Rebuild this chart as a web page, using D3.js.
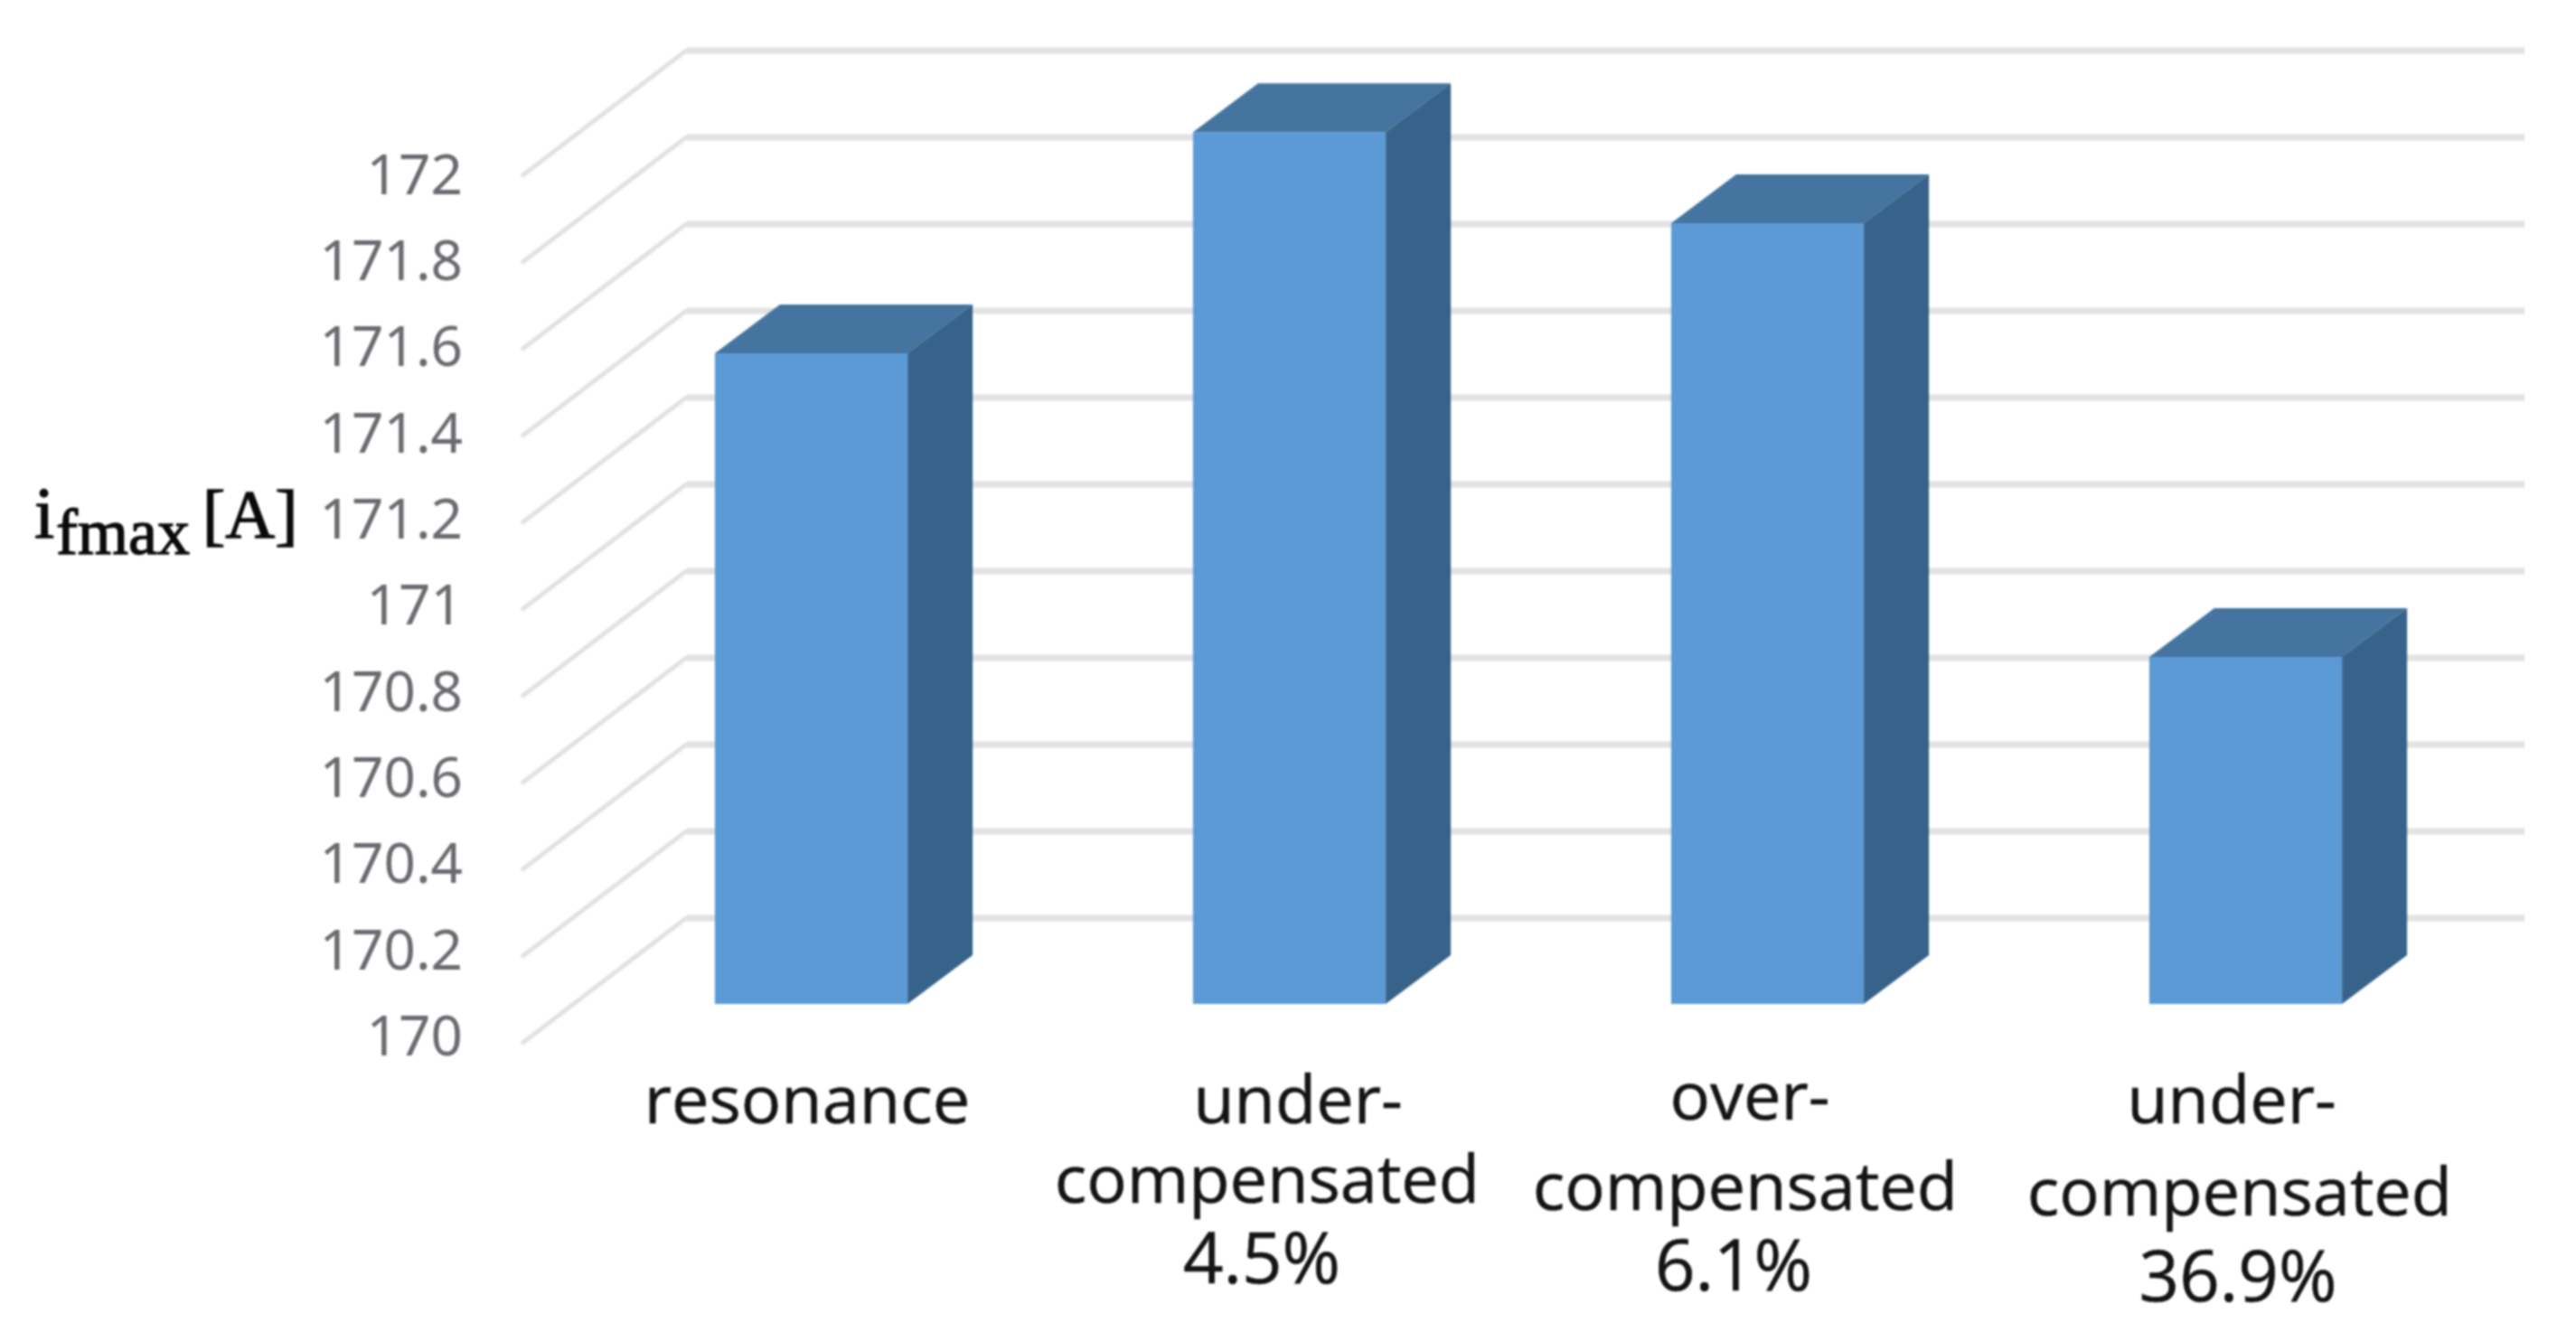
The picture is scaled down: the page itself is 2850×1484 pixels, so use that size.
<!DOCTYPE html>
<html><head><meta charset="utf-8">
<style>html,body{margin:0;padding:0;background:#fff}svg{display:block;filter:blur(1px)}</style>
<script src="https://cdn.jsdelivr.net/npm/d3@7"></script>
</head><body>
<script>
const categories = ["resonance", "under-compensated 4.5%", "over-compensated 6.1%", "under-compensated 36.9%"];
const values = [171.5, 172.01, 171.8, 170.8];
const tickValues = [170, 170.2, 170.4, 170.6, 170.8, 171, 171.2, 171.4, 171.6, 171.8, 172];
const tickLabels = ["170", "170.2", "170.4", "170.6", "170.8", "171", "171.2", "171.4", "171.6", "171.8", "172"];
const categoryLines = [["resonance"], ["under-", "compensated", "4.5%"], ["over-", "compensated", "6.1%"], ["under-", "compensated", "36.9%"]];

const W = 2850, H = 1484;
const svg = d3.select("body").append("svg").attr("width", W).attr("height", H).attr("viewBox", `0 0 ${W} ${H}`);

const yBack = d3.scaleLinear().domain([170, 172]).range([1016, 56]);
const yBar = d3.scaleLinear().domain([170, 172]).range([1111, 151]);
const yLabel = d3.scaleLinear().domain([170, 172]).range([1145, 192]);
const x = d3.scaleBand().domain(categories).range([633, 633 + 529 * 4]).paddingInner(0.597).paddingOuter(0.2985);

const wall = { dx: 182, dy: 139, left: 759, right: 2793 };
const bar = { dx: 72, dy: 54 };

const grid = svg.append("g").attr("fill", "none").attr("stroke", "#e2e2e2");
grid.selectAll("line.h").data(tickValues).join("line").attr("class", "h")
  .attr("x1", wall.left).attr("x2", wall.right)
  .attr("y1", d => yBack(d)).attr("y2", d => yBack(d)).attr("stroke-width", 7);
grid.selectAll("line.d").data(tickValues).join("line").attr("class", "d")
  .attr("x1", wall.left).attr("x2", wall.left - wall.dx)
  .attr("y1", d => yBack(d)).attr("y2", d => yBack(d) + wall.dy).attr("stroke-width", 5);

const axis = d3.axisLeft(yLabel).tickValues(tickValues).tickSize(0).tickPadding(0)
  .tickFormat((d, i) => tickLabels[i]);
const axisG = svg.append("g").attr("transform", "translate(512,0)").call(axis);
axisG.select(".domain").remove();
axisG.selectAll("text").attr("font-family", "'Noto Sans'").attr("font-size", 62).attr("fill", "#6a6a70")
  .attr("text-anchor", "end").attr("dy", "0.36em");

const rows = values.map((v, i) => ({ c: categories[i], v }));
const g = svg.append("g");
const path = pts => d3.line()(pts) + "Z";
g.selectAll("path.top").data(rows).join("path").attr("class", "top").attr("fill", "#44749f")
  .attr("d", d => { const a = x(d.c), b = a + x.bandwidth(), t = yBar(d.v);
    return path([[a, t], [b, t], [b + bar.dx, t - bar.dy], [a + bar.dx, t - bar.dy]]); });
g.selectAll("path.side").data(rows).join("path").attr("class", "side").attr("fill", "#376289")
  .attr("d", d => { const b = x(d.c) + x.bandwidth(), t = yBar(d.v), z = yBar(170);
    return path([[b, t], [b + bar.dx, t - bar.dy], [b + bar.dx, z - bar.dy], [b, z]]); });
g.selectAll("rect").data(rows).join("rect").attr("fill", "#5c9ad6")
  .attr("x", d => x(d.c)).attr("width", x.bandwidth())
  .attr("y", d => yBar(d.v)).attr("height", d => yBar(170) - yBar(d.v));

const labelPlace = [
  [[893, 1243]],
  [[1436, 1243], [1402, 1331], [1396, 1420]],
  [[1936, 1239], [1931, 1339], [1918, 1428]],
  [[2469, 1243], [2478, 1345], [2476, 1440]]
];
const lab = svg.append("g").attr("font-family", "'Open Sans'").attr("font-size", 74).attr("fill", "#141414")
  .attr("stroke", "#141414").attr("stroke-width", 0.6).attr("text-anchor", "middle");
categoryLines.forEach((lines, i) => lines.forEach((s, j) => {
  lab.append("text").attr("x", labelPlace[i][j][0]).attr("y", labelPlace[i][j][1])
    .attr("font-size", j === 2 ? 78 : 74).text(s);
}));

const title = svg.append("text").attr("font-family", "'Liberation Serif'").attr("fill", "#0a0a0a")
  .attr("stroke", "#0a0a0a").attr("stroke-width", 1.4);
title.append("tspan").attr("x", 38).attr("y", 595).attr("font-size", 80).text("i");
title.append("tspan").attr("x", 62).attr("y", 613).attr("font-size", 72).text("fmax");
title.append("tspan").attr("x", 224).attr("y", 595).attr("font-size", 76).text("[A]");
</script>
</body></html>
